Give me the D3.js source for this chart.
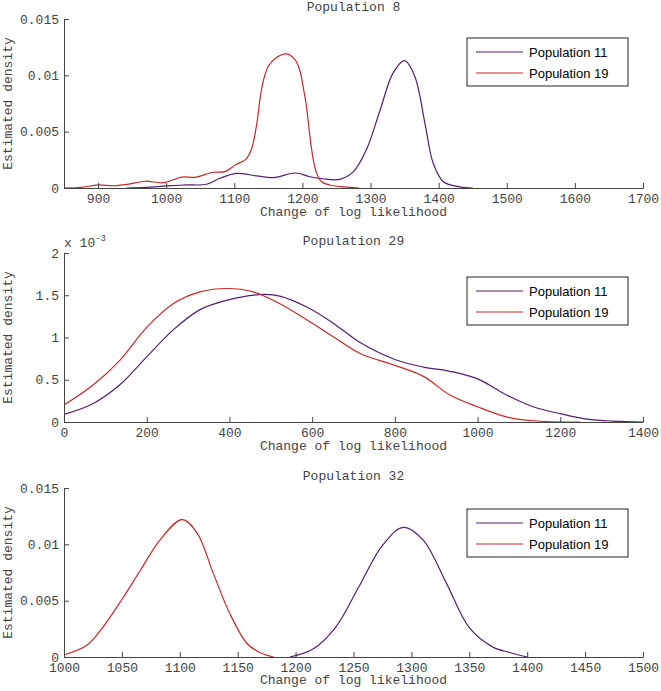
<!DOCTYPE html>
<html>
<head>
<meta charset="utf-8">
<script src="https://cdn.jsdelivr.net/npm/d3@7"></script>
<style>
  html, body { margin: 0; padding: 0; background: #fff; }
  svg { display: block; }
</style>
</head>
<body>
<svg id="chart" width="661" height="691"></svg>
<script>
// ---------------- DATA ----------------
const seriesNames = ["Population 11", "Population 19"];
const panelTitles = ["Population 8", "Population 29", "Population 32"];
const xLabel = "Change of log likelihood";
const yLabel = "Estimated density";

// Panel: Population 8
const p8Domain = [850, 1700];
const p8XTicks = [900, 1000, 1100, 1200, 1300, 1400, 1500, 1600, 1700];
const p8YTicks = [0, 0.005, 0.01, 0.015];
const p8YTickLabels = ["0", "0.005", "0.01", "0.015"];
const p8Pop11 = [[942,0],[970,0.00006],[1001,0.00018],[1030,0.00027],[1059,0.00033],[1079,0.00086],[1103,0.0013],
  [1133,0.00107],[1157,0.00092],[1190,0.00133],[1211,0.001],[1230,0.00082],[1255,0.00077],[1275,0.00145],
  [1294,0.0034],[1314,0.0069],[1333,0.0102],[1350,0.0113],[1365,0.0099],[1380,0.0057],[1392,0.0022],
  [1407,0.00056],[1431,0.0001],[1450,0]];
const p8Pop19 = [[850,0],[875,0.00005],[900,0.00027],[922,0.0002],[945,0.00035],[969,0.0006],[996,0.00047],
  [1023,0.00097],[1043,0.00095],[1069,0.0014],[1086,0.00145],[1103,0.0021],[1116,0.0025],[1125,0.0034],
  [1133,0.0057],[1138,0.008],[1143,0.0096],[1150,0.0108],[1160,0.0115],[1177,0.0119],[1189,0.0114],
  [1196,0.0105],[1201,0.009],[1206,0.0072],[1211,0.0046],[1216,0.0025],[1221,0.0013],[1228,0.00056],
  [1240,0.00027],[1260,0.0001],[1283,0]];

// Panel: Population 29
const p29Domain = [0, 1400];
const p29XTicks = [0, 200, 400, 600, 800, 1000, 1200, 1400];
const p29YTicks = [0, 0.0005, 0.001, 0.0015, 0.002];
const p29YTickLabels = ["0", "0.5", "1", "1.5", "2"];
const p29Exponent = "-3";
const p29Pop11 = [[0,0.00009],[71,0.00022],[135,0.00044],[200,0.00077],[264,0.00109],[329,0.00133],[393,0.00144],
  [482,0.00151],[522,0.00149],[587,0.00136],[651,0.00117],[716,0.00094],[800,0.00074],[869,0.00065],
  [933,0.0006],[1000,0.00051],[1070,0.00032],[1134,0.00018],[1199,0.0001],[1264,0.000035],[1328,0.00001],[1400,0]];
const p29Pop19 = [[0,0.0002],[71,0.00044],[135,0.00073],[200,0.00112],[264,0.0014],[329,0.00154],[393,0.00158],
  [458,0.00154],[522,0.0014],[587,0.00121],[651,0.00101],[716,0.00081],[800,0.00067],[869,0.00054],
  [933,0.00032],[1000,0.00018],[1070,0.00006],[1134,0.000015],[1248,0]];

// Panel: Population 32
const p32Domain = [1000, 1500];
const p32XTicks = [1000, 1050, 1100, 1150, 1200, 1250, 1300, 1350, 1400, 1450, 1500];
const p32YTicks = [0, 0.005, 0.01, 0.015];
const p32YTickLabels = ["0", "0.005", "0.01", "0.015"];
const p32Pop11 = [[1195,0],[1215,0.0007],[1235,0.0027],[1255,0.0063],[1275,0.0099],[1293,0.0115],[1310,0.0104],
  [1330,0.0066],[1350,0.0026],[1370,0.0009],[1385,0.0004],[1400,0]];
const p32Pop19 = [[1000,0.00018],[1020,0.00107],[1034,0.0027],[1050,0.0051],[1066,0.0077],[1083,0.0104],
  [1102,0.0122],[1115,0.011],[1129,0.0074],[1143,0.0039],[1158,0.0012],[1169,0.0004],[1181,0]];

// ---------------- LAYOUT / STYLE ----------------
const colors = ["#52206b", "#c8282b"];
const W = 661, H = 691;
const left = 64, right = 643;
const monoFont = "'Liberation Mono', 'DejaVu Sans Mono', monospace";
const sansFont = "'Liberation Sans', Arial, sans-serif";
const textColor = "#444";

const panels = [
  { title: panelTitles[0], xDomain: p8Domain, xTicks: p8XTicks, yDomain: [0, 0.015], yTicks: p8YTicks,
    yLabels: p8YTickLabels, data: [p8Pop11, p8Pop19], top: 19, bottom: 188, legendTop: 38, xLabelOff: 28 },
  { title: panelTitles[1], xDomain: p29Domain, xTicks: p29XTicks, yDomain: [0, 0.002], yTicks: p29YTicks,
    yLabels: p29YTickLabels, data: [p29Pop11, p29Pop19], top: 253, bottom: 422, legendTop: 277, exponent: p29Exponent, xLabelOff: 28 },
  { title: panelTitles[2], xDomain: p32Domain, xTicks: p32XTicks, yDomain: [0, 0.015], yTicks: p32YTicks,
    yLabels: p32YTickLabels, data: [p32Pop11, p32Pop19], top: 488, bottom: 657, legendTop: 509, xLabelOff: 27 }
];

const svg = d3.select("#chart");
svg.append("rect").attr("width", W).attr("height", H).attr("fill", "#fff");

panels.forEach(p => {
  const x = d3.scaleLinear().domain(p.xDomain).range([left, right]);
  const y = d3.scaleLinear().domain(p.yDomain).range([p.bottom, p.top]);
  const g = svg.append("g");

  // curves
  const line = d3.line().x(d => x(d[0])).y(d => Math.min(y(d[1]), p.bottom))
    .curve(d3.curveCatmullRom.alpha(0.5));
  p.data.forEach((s, i) => {
    g.append("path").datum(s).attr("d", line)
      .attr("fill", "none").attr("stroke", colors[i]).attr("stroke-width", 1.2);
  });

  // axes
  const xAxis = d3.axisBottom(x).tickValues(p.xTicks).tickFormat(d3.format("d"))
    .tickSizeInner(-5).tickSizeOuter(0).tickPadding(6);
  const gx = g.append("g").attr("transform", `translate(0,${p.bottom})`).call(xAxis);
  const yLabelMap = new Map(p.yTicks.map((v, i) => [v, p.yLabels[i]]));
  const yAxis = d3.axisLeft(y).tickValues(p.yTicks).tickFormat(d => yLabelMap.get(d))
    .tickSizeInner(-5).tickSizeOuter(0).tickPadding(5);
  const gy = g.append("g").attr("transform", `translate(${left},0)`).call(yAxis);
  [gx, gy].forEach(a => {
    a.select(".domain").attr("stroke", "#444").attr("stroke-width", 1);
    a.selectAll(".tick line").attr("stroke", "#444");
    a.selectAll(".tick text").attr("fill", textColor).style("font-family", monoFont).style("font-size", "13px");
  });

  // title
  g.append("text").attr("x", (left + right) / 2).attr("y", p.top - 8)
    .attr("text-anchor", "middle").attr("fill", textColor)
    .style("font-family", monoFont).style("font-size", "13px").text(p.title);

  // x label
  g.append("text").attr("x", (left + right) / 2).attr("y", p.bottom + p.xLabelOff)
    .attr("text-anchor", "middle").attr("fill", textColor)
    .style("font-family", monoFont).style("font-size", "13px").text(xLabel);

  // y label
  g.append("text").attr("transform", `translate(12,${(p.top + p.bottom) / 2}) rotate(-90)`)
    .attr("text-anchor", "middle").attr("fill", textColor)
    .style("font-family", monoFont).style("font-size", "13px").text(yLabel);

  // exponent
  if (p.exponent) {
    const t = g.append("text").attr("x", left).attr("y", p.top - 6).attr("fill", textColor)
      .style("font-family", monoFont).style("font-size", "13px");
    t.append("tspan").text("x 10");
    t.append("tspan").attr("dy", -6).style("font-size", "9px").text(p.exponent);
  }

  // legend
  const lx = 467, lw = 161, lh = 48, ly = p.legendTop;
  const lg = g.append("g");
  lg.append("rect").attr("x", lx).attr("y", ly).attr("width", lw).attr("height", lh)
    .attr("fill", "#fff").attr("stroke", "#222").attr("stroke-width", 1);
  seriesNames.forEach((name, i) => {
    const cy = ly + 14 + i * 21;
    lg.append("line").attr("x1", lx + 9).attr("x2", lx + 56).attr("y1", cy).attr("y2", cy)
      .attr("stroke", colors[i]).attr("stroke-width", 1.2);
    lg.append("text").attr("x", lx + 62).attr("y", cy).attr("dy", "0.35em").attr("fill", "#000")
      .style("font-family", sansFont).style("font-size", "13px").text(name);
  });
});
</script>
</body>
</html>
